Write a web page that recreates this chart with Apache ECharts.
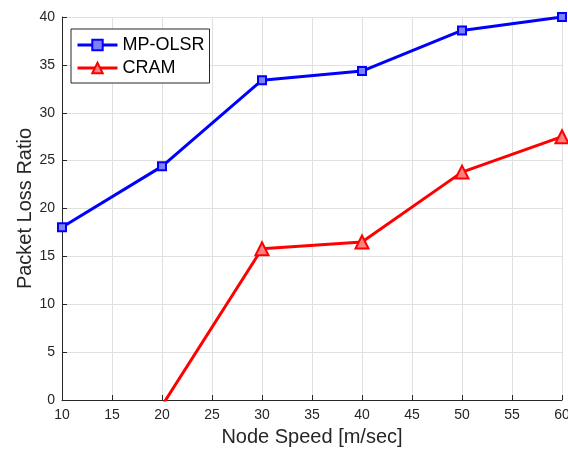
<!DOCTYPE html>
<html>
<head>
<meta charset="utf-8">
<script src="https://cdn.jsdelivr.net/npm/echarts@6/dist/echarts.min.js"></script>
<style>
html, body { margin: 0; padding: 0; background: #fff; }
#chart { width: 568px; height: 455px; }
</style>
</head>
<body>
<div id="chart"></div>
<script>
// 数据
var speeds = [10, 20, 30, 40, 50, 60];
var olsrVals = [18.05, 24.4, 33.4, 34.35, 38.6, 40];
var cramVals = [null, -0.6, 15.8, 16.5, 23.8, 27.5];

function pairs(xs, ys) {
    var out = [];
    for (var i = 0; i < xs.length; i++) {
        if (ys[i] !== null) out.push([xs[i], ys[i]]);
    }
    return out;
}

var chart = echarts.init(document.getElementById('chart'));
var font = 'Liberation Sans, Arial, Helvetica, sans-serif';
var option = {
    backgroundColor: '#fff',
    animation: false,
    grid: { left: 62, right: 6, top: 17, bottom: 55, outerBoundsMode: 'none', containLabel: false },
    legend: {
        orient: 'vertical',
        left: 71,
        top: 29,
        padding: [7, 5, 6, 5],
        itemGap: 5,
        itemWidth: 40,
        itemHeight: 13,
        borderColor: '#262626',
        borderWidth: 1,
        backgroundColor: '#fff',
        lineStyle: { width: 3 },
        textStyle: { fontFamily: font, fontSize: 18, color: '#000' },
        data: ['MP-OLSR', 'CRAM']
    },
    xAxis: {
        type: 'value',
        min: 10, max: 60, interval: 5,
        name: 'Node Speed [m/sec]',
        nameLocation: 'middle',
        nameGap: 27,
        nameMoveOverlap: false,
        nameTextStyle: { fontFamily: font, fontSize: 20, color: '#262626' },
        axisLine: { onZero: false, lineStyle: { color: '#262626', width: 1 } },
        axisTick: { inside: true, length: 5, lineStyle: { color: '#262626' } },
        axisLabel: { fontFamily: font, fontSize: 14, color: '#262626', margin: 8 },
        splitLine: { show: true, lineStyle: { color: '#e0e0e0', width: 1 } }
    },
    yAxis: {
        type: 'value',
        min: 0, max: 40, interval: 5,
        name: 'Packet Loss Ratio',
        nameLocation: 'middle',
        nameGap: 27,
        nameMoveOverlap: false,
        nameTextStyle: { fontFamily: font, fontSize: 20, color: '#262626' },
        axisLine: { show: true, lineStyle: { color: '#262626', width: 1 } },
        axisTick: { show: true, inside: true, length: 5, lineStyle: { color: '#262626' } },
        axisLabel: { fontFamily: font, fontSize: 14, color: '#262626', margin: 7 },
        splitLine: { show: true, lineStyle: { color: '#e0e0e0', width: 1 } }
    },
    series: [{
        name: 'MP-OLSR',
        type: 'line',
        data: pairs(speeds, olsrVals),
        symbol: 'rect',
        symbolSize: 8,
        clip: true,
        color: '#0000ff',
        lineStyle: { color: '#0000ff', width: 3 },
        itemStyle: { color: '#8080ff', borderColor: '#0000ff', borderWidth: 2 }
    }, {
        name: 'CRAM',
        type: 'line',
        data: pairs(speeds, cramVals),
        symbol: 'triangle',
        symbolSize: 13,
        clip: true,
        color: '#ff0000',
        lineStyle: { color: '#ff0000', width: 3 },
        itemStyle: { color: '#ff8080', borderColor: '#ff0000', borderWidth: 2 }
    }]
};
chart.setOption(option);
</script>
</body>
</html>
